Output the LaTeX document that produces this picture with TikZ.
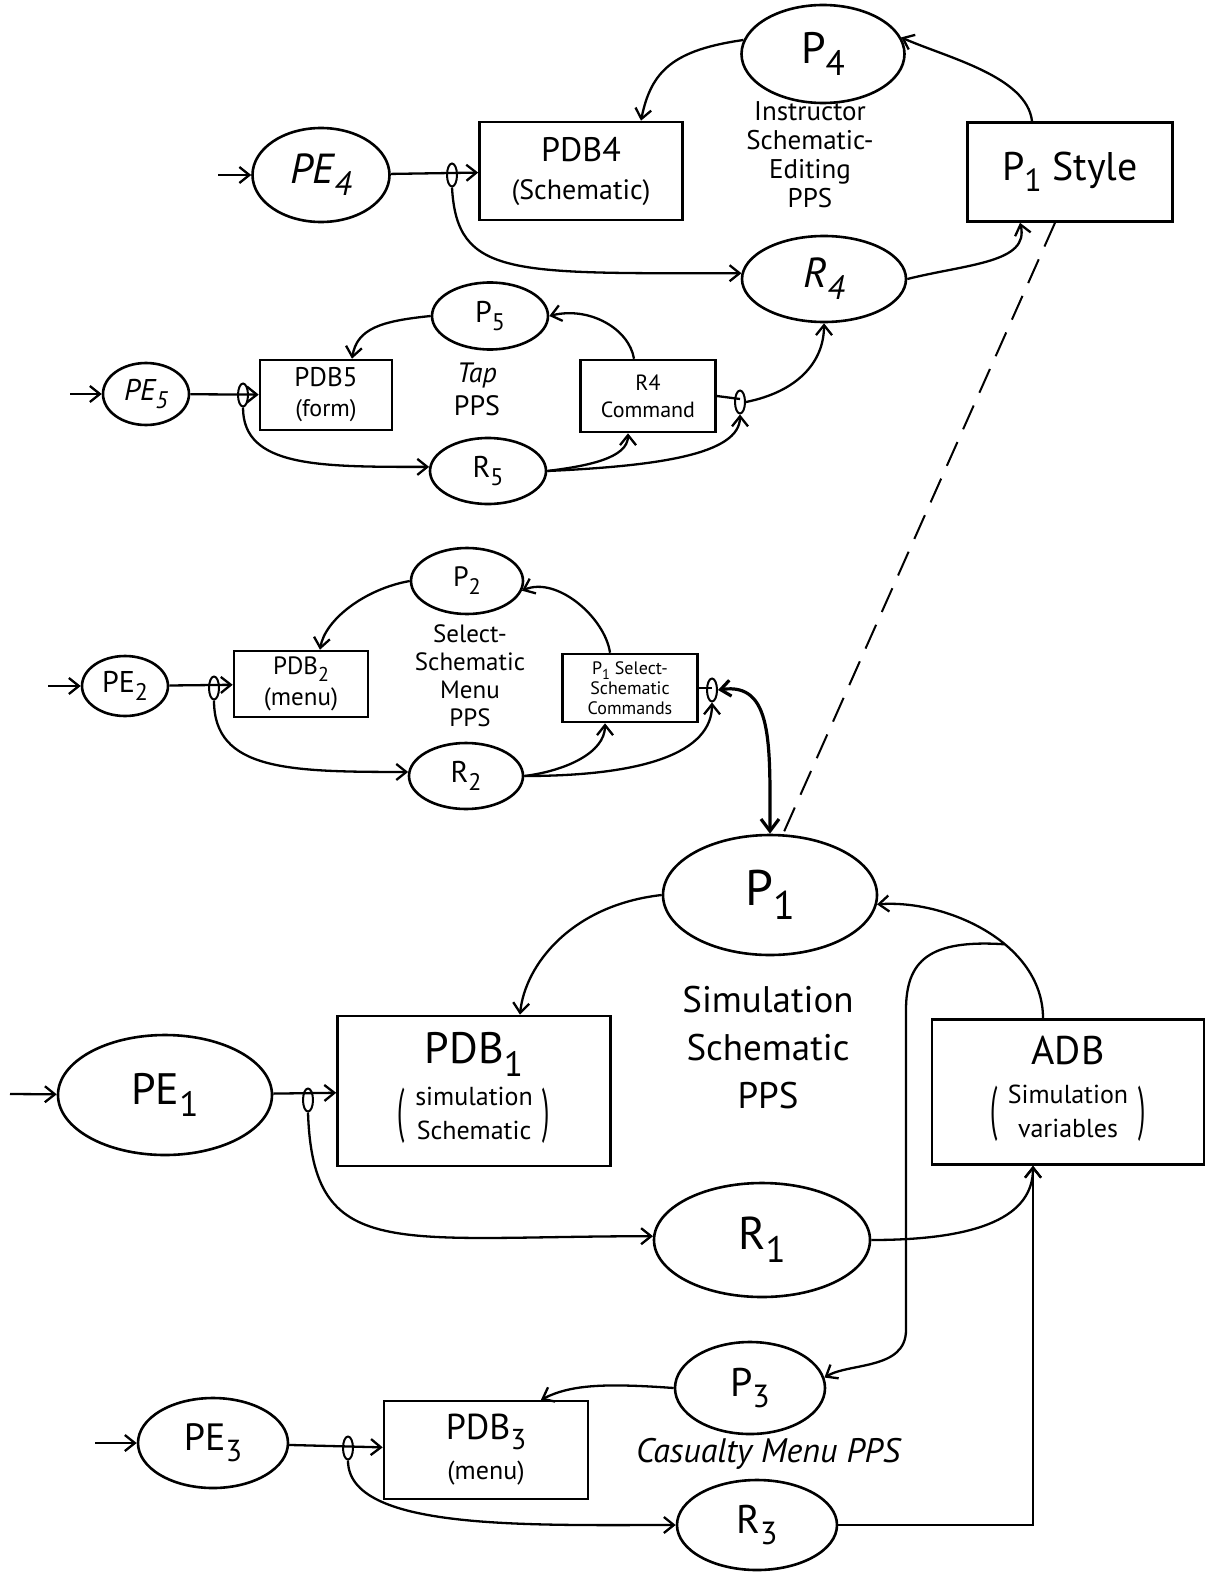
\documentclass[tikz,border=0pt]{standalone}
\usepackage{fontspec}
\setmainfont{PT Sans}
\usetikzlibrary{shapes.geometric,arrows.meta}
\newcommand\fsz[1]{\fontsize{#1}{\dimexpr #1pt*6/5\relax}\selectfont}
\newcommand\fszl[2]{\fontsize{#1}{#2}\selectfont}
\newcommand\lowsub[1]{\raisebox{-0.28em}{\scalebox{0.8}{#1}}}
\newcommand\tallparen[1]{\raisebox{-0.32em}{\scalebox{1}[2.3]{#1}}}
\newcommand\bigparen[1]{\tallparen{(}\hspace{10pt}\begin{tabular}[c]{@{}c@{}}#1\end{tabular}\hspace{10pt}\tallparen{)}}
\begin{document}
\begin{tikzpicture}[x=1pt,y=-1pt,
  ell/.style={draw, ellipse, line width=2.6pt, inner sep=0pt},
  blk/.style={draw, rectangle, line width=2.6pt, inner sep=0pt, align=center},
  split/.style={draw, ellipse, line width=2pt, minimum width=10pt, minimum height=23pt, inner sep=0pt},
  arr/.style={line width=2.3pt, -{Straight Barb[length=10pt,width=16pt]}},
  conn/.style={line width=2.3pt},
  lbl/.style={align=center, inner sep=0pt}]
\fill[white] (0,0) rectangle (1210,1573);
\useasboundingbox (0,0) rectangle (1210,1573);

% ---------- Instructor schematic-editing PPS ----------
\node[ell, minimum width=163, minimum height=98, font=\fsz{44}] (P4) at (823,54) {P\lowsub{4}};
\node[ell, minimum width=137, minimum height=94, font=\fsz{42}\itshape] (PE4) at (321,175) {PE\lowsub{4}};
\node[blk, minimum width=203, minimum height=98, font=\fszl{34}{38}] (PDB4) at (581,171) {PDB4\\\fsz{28}(Schematic)};
\node[blk, minimum width=205, minimum height=99, font=\fsz{40}] (P1S) at (1070,172) {P\lowsub{1} Style};
\node[ell, minimum width=164, minimum height=86, font=\fsz{42}\itshape] (R4) at (824,279) {R\lowsub{4}};
\node[lbl, font=\fszl{27}{29}] (T4) at (810,155) {Instructor\\Schematic-\\Editing\\PPS};
\coordinate (in4) at (218,175);
\draw[arr] (in4) -- (PE4);
\draw[arr] (PE4) -- (PDB4);
\node[split] (s4) at (452,175) {};
\draw[arr] (P4.170) .. controls +(-70,10) and +(10,-50) .. ([xshift=60]PDB4.north);
\draw[arr] ([xshift=-38]P1S.north) .. controls +(-5,-45) and +(45,20) .. (P4.12);
\draw[arr] (s4.south) .. controls +(5,90) and +(-230,0) .. (R4.176);
\draw[arr] (R4.east) .. controls +(60,-15) and +(10,40) .. ([xshift=-50]P1S.south);

% ---------- Tap PPS ----------
\node[ell, minimum width=116, minimum height=67, font=\fsz{30}] (P5) at (490,316) {P\lowsub{5}};
\node[ell, minimum width=86, minimum height=62, font=\fsz{30}\itshape] (PE5) at (146,394) {PE\lowsub{5}};
\node[blk, minimum width=132, minimum height=70, font=\fszl{27}{30}] (PDB5) at (326,395) {PDB5\\\fsz{24}(form)};
\node[blk, minimum width=135, minimum height=72, font=\fszl{22}{27}] (RC) at (648,396) {R4\\Command};
\node[ell, minimum width=116, minimum height=66, font=\fsz{30}] (R5) at (488,471) {R\lowsub{5}};
\node[lbl, font=\fszl{28}{33}] (T5) at (477,389) {\itshape Tap\\PPS};
\coordinate (in5) at (70,394);
\draw[arr] (in5) -- (PE5);
\draw[arr] (PE5) -- (PDB5);
\node[split] (s5) at (243,395) {};
\draw[conn] (RC.east) -- (740,399);
\node[split] (s5b) at (740,402) {};
\draw[arr] (P5.west) .. controls +(-50,5) and +(5,-30) .. ([xshift=26]PDB5.north);
\draw[arr] ([xshift=-14]RC.north) .. controls +(-5,-30) and +(40,-10) .. (P5.east);
\draw[arr] (s5.south) .. controls +(0,60) and +(-110,0) .. (R5.176);
\draw[arr] (R5.east) .. controls +(40,-5) and +(0,25) .. ([xshift=-20]RC.south);
\draw[arr] (R5.east) .. controls +(110,-5) and +(0,40) .. (s5b.south);
\draw[arr] (s5b.east) .. controls +(50,-10) and +(0,40) .. (R4.south);

% ---------- Select-schematic menu PPS ----------
\node[ell, minimum width=112, minimum height=66, font=\fsz{28}] (P2) at (467,581) {P\lowsub{2}};
\node[ell, minimum width=86, minimum height=60, font=\fsz{30}] (PE2) at (125,686) {PE\lowsub{2}};
\node[blk, minimum width=134, minimum height=66, font=\fszl{25}{31}] (PDB2) at (301,684) {PDB\lowsub{2}\\(menu)};
\node[blk, minimum width=135, minimum height=68, font=\fszl{18}{20}] (PC) at (630,688) {P\lowsub{1} Select-\\Schematic\\Commands};
\node[ell, minimum width=114, minimum height=66, font=\fsz{30}] (R2) at (466,776) {R\lowsub{2}};
\node[lbl, font=\fszl{25}{28}] (T2) at (470,676) {Select-\\Schematic\\Menu\\PPS};
\coordinate (in2) at (48,686);
\draw[arr] (in2) -- (PE2);
\draw[arr] (PE2) -- (PDB2);
\node[split] (s2) at (214,688) {};
\draw[conn] (PC.east) -- (712,688);
\node[split] (s2b) at (712,690) {};
\draw[arr] (P2.west) .. controls +(-45,8) and +(5,-30) .. ([xshift=19]PDB2.north);
\draw[arr] ([xshift=-20]PC.north) .. controls +(-5,-35) and +(35,-15) .. (P2.-10);
\draw[arr] (s2.south) .. controls +(0,70) and +(-120,0) .. (R2.176);
\draw[arr] (R2.east) .. controls +(40,-5) and +(0,30) .. ([xshift=-25]PC.south);
\draw[arr] (R2.east) .. controls +(120,0) and +(0,50) .. (s2b.south);

% ---------- Simulation schematic PPS ----------
\node[ell, minimum width=214, minimum height=120, font=\fsz{50}] (P1) at (770,895) {P\lowsub{1}};
\node[ell, minimum width=214, minimum height=120, font=\fsz{44}] (PE1) at (165,1095) {PE\lowsub{1}};
\node[blk, minimum width=273, minimum height=150, font=\fszl{44}{58}] (PDB1) at (474,1091) {PDB\lowsub{1}\\\fszl{26}{34}\bigparen{simulation\\Schematic}};
\node[blk, minimum width=272, minimum height=145, font=\fszl{40}{56}] (ADB) at (1068,1092) {ADB\\\fszl{26}{34}\bigparen{Simulation\\variables}};
\node[ell, minimum width=216, minimum height=114, font=\fsz{46}] (R1) at (762,1240) {R\lowsub{1}};
\node[lbl, font=\fszl{37}{48}] (T1) at (768,1048) {Simulation\\Schematic\\PPS};
\coordinate (in1) at (10,1094);
\draw[arr] (in1) -- (PE1);
\draw[arr] (PE1) -- (PDB1);
\node[split] (s1) at (308,1100) {};
\draw[line width=2pt, dash pattern=on 26pt off 14pt] ([xshift=-15]P1S.south) -- (P1.78);
\draw[line width=3.2pt, {Straight Barb[length=10pt,width=16pt]}-{Straight Barb[length=12pt,width=18pt]}]
  (s2b.east) .. controls +(55,-8) and +(0,-90) .. (P1.north);
\draw[arr] (P1.west) .. controls +(-90,10) and +(5,-50) .. ([xshift=46]PDB1.north);
\draw[arr] ([xshift=-25]ADB.north) .. controls +(0,-75) and +(70,-5) .. (P1.-5) coordinate[pos=0.4] (br);
\draw[arr] (s1.south) .. controls +(5,150) and +(-260,0) .. (R1.178);
\draw[arr] (R1.east) .. controls +(110,0) and +(0,50) .. ([xshift=-35]ADB.south);

% ---------- Casualty menu PPS ----------
\node[ell, minimum width=150, minimum height=92, font=\fsz{40}] (P3) at (750,1388) {P\lowsub{3}};
\node[ell, minimum width=150, minimum height=90, font=\fsz{38}] (PE3) at (213,1443) {PE\lowsub{3}};
\node[blk, minimum width=204, minimum height=98, font=\fszl{36}{40}] (PDB3) at (486,1450) {PDB\lowsub{3}\\\fsz{26}(menu)};
\node[ell, minimum width=160, minimum height=90, font=\fsz{40}] (R3) at (757,1525) {R\lowsub{3}};
\node[lbl, font=\fsz{34}\itshape] (T3) at (768,1454) {Casualty Menu PPS};
\coordinate (in3) at (95,1443);
\draw[arr] (in3) -- (PE3);
\draw[arr] (PE3) -- (PDB3);
\node[split] (s3) at (348,1448) {};
\draw[arr] (P3.west) .. controls +(-70,-5) and +(30,-15) .. ([xshift=55]PDB3.north);
\draw[arr] (s3.south) .. controls +(0,70) and +(-150,0) .. (R3.west);
\draw[arr] (R3.east) -| ([xshift=-35]ADB.south);

% branch from the ADB-to-P1 link down to P3
\coordinate (dn1) at (906,1010);
\coordinate (dn2) at (906,1330);
\draw[arr] (br) .. controls +(-75,-5) and +(0,-50) .. (dn1) -- (dn2) .. controls +(0,40) and +(25,-15) .. (P3.8);
\end{tikzpicture}
\end{document}
